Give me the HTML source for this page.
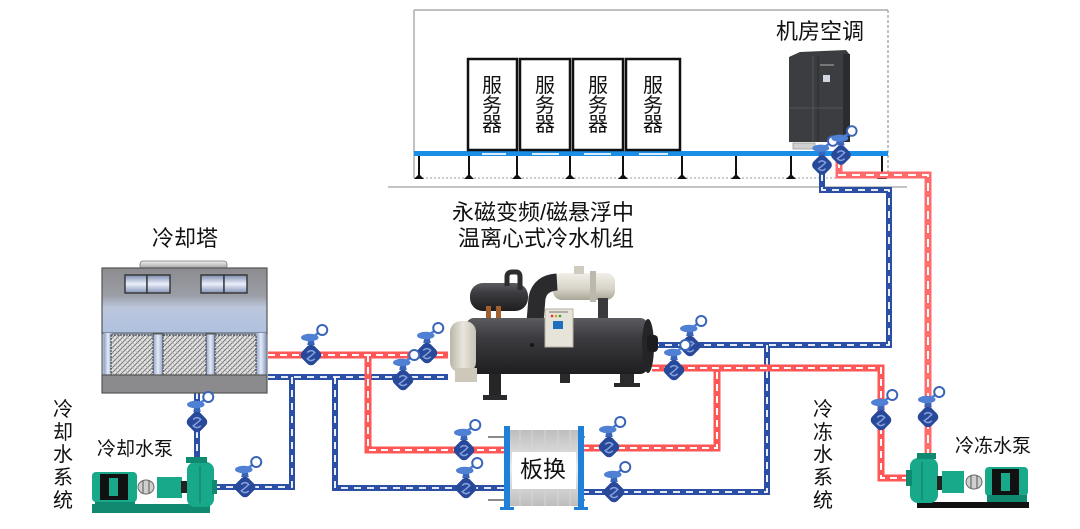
<!DOCTYPE html>
<html><head><meta charset="utf-8">
<style>
html,body{margin:0;padding:0;background:#fff;}
svg{display:block;}
text{font-family:"Liberation Sans","Noto Sans CJK SC",sans-serif;fill:#111;}
</style></head><body>
<svg width="1080" height="529" viewBox="0 0 1080 529" xmlns="http://www.w3.org/2000/svg">
<defs>
 <linearGradient id="towerTop" x1="0" y1="0" x2="0" y2="1">
  <stop offset="0" stop-color="#8c8c8f"/>
  <stop offset="0.42" stop-color="#9b9ea6"/>
  <stop offset="0.6" stop-color="#bcc7dc"/>
  <stop offset="1" stop-color="#afc0e0"/>
 </linearGradient>
 <linearGradient id="win" x1="0" y1="0" x2="0" y2="1">
  <stop offset="0" stop-color="#7d8db0"/>
  <stop offset="0.5" stop-color="#eaf0fa"/>
  <stop offset="1" stop-color="#8494b8"/>
 </linearGradient>
 <linearGradient id="cap" x1="0" y1="0" x2="0" y2="1">
  <stop offset="0" stop-color="#f0f0f0"/>
  <stop offset="1" stop-color="#9a9a9a"/>
 </linearGradient>
 <linearGradient id="pillar" x1="0" y1="0" x2="1" y2="0">
  <stop offset="0" stop-color="#8ea2c8"/>
  <stop offset="0.5" stop-color="#e6ecf6"/>
  <stop offset="1" stop-color="#8ea2c8"/>
 </linearGradient>
 <pattern id="mesh" width="5" height="5" patternUnits="userSpaceOnUse">
  <rect width="5" height="5" fill="#e4e4e4"/>
  <path d="M0 5L5 0M-1 1L1 -1M4 6L6 4" stroke="#777" stroke-width="1"/>
  <path d="M0 0L5 5" stroke="#aaa" stroke-width="0.6"/>
 </pattern>
 <linearGradient id="darkV" x1="0" y1="0" x2="0" y2="1">
  <stop offset="0" stop-color="#5c5c60"/>
  <stop offset="0.35" stop-color="#3c3c40"/>
  <stop offset="1" stop-color="#1e1e20"/>
 </linearGradient>
 <linearGradient id="beige" x1="0" y1="0" x2="0" y2="1">
  <stop offset="0" stop-color="#f1efe8"/>
  <stop offset="0.6" stop-color="#d6d2c6"/>
  <stop offset="1" stop-color="#a9a597"/>
 </linearGradient>
 <linearGradient id="beigeH" x1="0" y1="0" x2="1" y2="0">
  <stop offset="0" stop-color="#b9b5a8"/>
  <stop offset="0.5" stop-color="#e9e6dd"/>
  <stop offset="1" stop-color="#c6c2b5"/>
 </linearGradient>
 <linearGradient id="plates" x1="0" y1="0" x2="0" y2="1">
  <stop offset="0" stop-color="#bdbdbd"/>
  <stop offset="0.5" stop-color="#ececec"/>
  <stop offset="1" stop-color="#bdbdbd"/>
 </linearGradient>
 <g id="valve">
  <path d="M-3 -8 L3 -8 L2 -13 L-2 -13 Z" fill="#3a64b8"/>
  <ellipse cx="-1" cy="-14" rx="7" ry="3" fill="#4f80d4"/>
  <path d="M2 -15 L8 -19" stroke="#4f80d4" stroke-width="2"/>
  <circle cx="9" cy="-20" r="4" fill="#fff" stroke="#3a64b8" stroke-width="1.6"/>
  <rect x="-7" y="-7" width="14" height="14" rx="4" transform="rotate(45)" fill="#28489a"/>
  <path d="M-3 -2 Q0 -5 3 -2 Q0 1 -3 3 Q0 6 3 3" stroke="#86a2dc" stroke-width="1.2" fill="none"/>
 </g>
 <g id="redPipes" fill="none" stroke-linejoin="miter">
  <polyline points="268,355 448,355"/>
  <polyline points="368,355 368,450 506,450"/>
  <polyline points="582,448 717,448 717,368"/>
  <polyline points="652,368 881,368 881,478 912,478"/>
 </g>
 <g id="redPipe2" fill="none">
  <polyline points="839,160 839,175 928,175 928,455"/>
 </g>
 <g id="bluePipes" fill="none">
  <polyline points="268,377 448,377"/>
  <polyline points="213,487 292,487 292,377"/>
  <polyline points="335,377 335,488 506,488"/>
  <polyline points="582,492 767,492 767,345"/>
  <polyline points="652,345 889,345 889,190 822,190 822,160"/>
  <polyline points="197,392 197,460"/>
 </g>
</defs>

<!-- ============ SERVER ROOM ============ -->
<line x1="414" y1="10" x2="888" y2="10" stroke="#9a9a9a" stroke-width="1.2"/>
<line x1="414" y1="10" x2="414" y2="178" stroke="#9a9a9a" stroke-width="1.2"/>
<line x1="888" y1="10" x2="888" y2="178" stroke="#9a9a9a" stroke-width="1.2" stroke-dasharray="3 2"/>
<line x1="388" y1="187" x2="907" y2="187" stroke="#b0b0b0" stroke-width="1.5"/>
<line x1="414" y1="178" x2="888" y2="178" stroke="#9a9a9a" stroke-width="1" stroke-dasharray="2 2"/>

<g stroke="#111" stroke-width="2">
 <line x1="419" y1="156" x2="419" y2="176"/><line x1="469" y1="156" x2="469" y2="176"/>
 <line x1="517" y1="156" x2="517" y2="176"/><line x1="570" y1="156" x2="570" y2="176"/>
 <line x1="623" y1="156" x2="623" y2="176"/><line x1="682" y1="156" x2="682" y2="176"/>
 <line x1="736" y1="156" x2="736" y2="176"/><line x1="791" y1="156" x2="791" y2="176"/>
 <line x1="882" y1="156" x2="882" y2="176"/>
</g>
<g fill="#111">
 <path d="M414 179 L419 174 L424 179Z"/><path d="M464 179 L469 174 L474 179Z"/>
 <path d="M512 179 L517 174 L522 179Z"/><path d="M565 179 L570 174 L575 179Z"/>
 <path d="M618 179 L623 174 L628 179Z"/><path d="M677 179 L682 174 L687 179Z"/>
 <path d="M731 179 L736 174 L741 179Z"/><path d="M786 179 L791 174 L796 179Z"/>
 <path d="M877 179 L882 174 L887 179Z"/>
</g>
<rect x="414" y="151" width="474" height="5" fill="#1a8ee6"/>
<g fill="#d8ecfb">
 <rect x="482" y="153" width="24" height="2"/><rect x="532" y="153" width="27" height="2"/>
 <rect x="584" y="153" width="27" height="2"/><rect x="639" y="153" width="29" height="2"/>
</g>

<g fill="#fff" stroke="#111" stroke-width="2.5">
 <rect x="468" y="59" width="49" height="91"/>
 <rect x="520" y="59" width="50" height="91"/>
 <rect x="573" y="59" width="50" height="91"/>
 <rect x="626" y="59" width="54" height="91"/>
</g>
<g font-size="20" text-anchor="middle">
 <text x="492" y="92">服</text><text x="492" y="112">务</text><text x="492" y="131">器</text>
 <text x="545" y="92">服</text><text x="545" y="112">务</text><text x="545" y="131">器</text>
 <text x="598" y="92">服</text><text x="598" y="112">务</text><text x="598" y="131">器</text>
 <text x="653" y="92">服</text><text x="653" y="112">务</text><text x="653" y="131">器</text>
</g>

<text x="820" y="39" font-size="22" text-anchor="middle">机房空调</text>
<rect x="793" y="143" width="22" height="6" fill="#cfcfcf" stroke="#999" stroke-width="0.8"/>
<path d="M789 57 L800 52 L846 50 L850 55 L850 142 L789 142 Z" fill="#3b3d41"/>
<rect x="843" y="54" width="7" height="88" fill="#2b2c2f"/>
<line x1="813" y1="56" x2="813" y2="142" stroke="#55575c" stroke-width="1"/>
<line x1="818" y1="56" x2="818" y2="142" stroke="#2a2b2e" stroke-width="1"/>
<line x1="789" y1="108" x2="843" y2="108" stroke="#505257" stroke-width="1"/>
<rect x="823" y="75" width="7" height="7" fill="#cfd6e0"/>
<rect x="820" y="64" width="14" height="2" fill="#777"/>

<!-- ============ PIPES ============ -->
<use href="#bluePipes" stroke="#2c4fa6" stroke-width="6"/>
<use href="#bluePipes" stroke="#fff" stroke-width="1.8" stroke-dasharray="7 6"/>
<use href="#redPipes" stroke="#ff5656" stroke-width="7"/>
<use href="#redPipes" stroke="#fff" stroke-width="2" stroke-dasharray="7 5"/>
<use href="#redPipe2" stroke="#ff6b6b" stroke-width="7"/>
<use href="#redPipe2" stroke="#fff" stroke-width="2" stroke-dasharray="8 6"/>

<!-- ============ COOLING TOWER ============ -->
<text x="185" y="246" font-size="22" text-anchor="middle">冷却塔</text>
<rect x="140" y="261" width="87" height="8" rx="3" fill="url(#cap)" stroke="#777" stroke-width="0.8"/>
<rect x="102" y="268" width="165" height="66" fill="url(#towerTop)" stroke="#555" stroke-width="1.2"/>
<g fill="url(#win)" stroke="#333" stroke-width="1.4">
 <rect x="125" y="275" width="22" height="18"/><rect x="147" y="275" width="23" height="18"/>
 <rect x="201" y="275" width="23" height="18"/><rect x="224" y="275" width="23" height="18"/>
</g>
<rect x="102" y="333" width="165" height="43" fill="#a9b7d0" stroke="#555" stroke-width="1"/>
<rect x="104" y="333" width="8" height="43" fill="url(#pillar)"/>
<rect x="256" y="333" width="10" height="43" fill="url(#pillar)"/>
<rect x="153" y="334" width="10" height="41" fill="url(#pillar)" stroke="#444" stroke-width="0.8"/>
<rect x="206" y="334" width="9" height="41" fill="url(#pillar)" stroke="#444" stroke-width="0.8"/>
<g fill="url(#mesh)" stroke="#333" stroke-width="1" stroke-dasharray="2 1">
 <rect x="111" y="335" width="42" height="40"/>
 <rect x="163" y="335" width="43" height="40"/>
 <rect x="215" y="335" width="41" height="40"/>
</g>
<rect x="102" y="375" width="165" height="18" fill="#8b8b8d" stroke="#555" stroke-width="1.2"/>

<!-- ============ CHILLER ============ -->
<text x="543" y="220" font-size="22" text-anchor="middle">永磁变频/磁悬浮中</text>
<text x="546" y="246" font-size="22" text-anchor="middle">温离心式冷水机组</text>
<g>
 <rect x="620" y="368" width="14" height="18" fill="#2a2a2c"/>
 <rect x="614" y="383" width="26" height="4" fill="#2a2a2c"/>
 <rect x="489" y="370" width="12" height="28" fill="#262628"/>
 <rect x="483" y="395" width="24" height="5" fill="#2a2a2c"/>
 <rect x="560" y="370" width="10" height="13" fill="#2a2a2c"/>
 <rect x="470" y="283" width="58" height="28" rx="13" fill="url(#darkV)"/>
 <path d="M507 286 V277 Q507 272 512 272 H516 Q520 272 520 277 V290" stroke="#2d2d30" stroke-width="5" fill="none"/>
 <rect x="553" y="273" width="62" height="27" rx="9" fill="url(#beige)"/>
 <rect x="590" y="271" width="6" height="31" fill="#bcb8ab"/>
 <rect x="574" y="266" width="10" height="8" fill="#cfcbbf"/>
 <rect x="598" y="298" width="10" height="20" fill="#3a3a3d"/>
 <path d="M535 322 L537 298 Q540 283 557 282" stroke="#2b2b2e" stroke-width="17" fill="none"/>
 <rect x="466" y="318" width="182" height="56" rx="8" fill="url(#darkV)"/>
 <ellipse cx="648" cy="346" rx="6" ry="27" fill="#252527"/>
 <rect x="647" y="335" width="11" height="17" rx="4" fill="#1c1c1e"/>
 <rect x="450" y="321" width="26" height="52" rx="11" fill="url(#beigeH)"/>
 <rect x="455" y="368" width="22" height="14" fill="#cdc8ba"/>
 <rect x="545" y="309" width="28" height="38" fill="#e6e3d8" stroke="#b5b1a4" stroke-width="1"/>
 <rect x="553" y="321" width="10" height="8" fill="#1f6fc0"/>
 <circle cx="552" cy="316" r="1.3" fill="#e03030"/><circle cx="556" cy="316" r="1.3" fill="#e0a020"/>
 <circle cx="560" cy="316" r="1.3" fill="#30a040"/>
 <line x1="549" y1="312" x2="568" y2="312" stroke="#777" stroke-width="1"/>
 <rect x="486" y="306" width="5" height="12" fill="#a06030"/>
 <rect x="496" y="306" width="5" height="12" fill="#a06030"/>
 <circle cx="532" cy="345" r="2" fill="#151515"/>
</g>

<!-- ============ PLATE EXCHANGER ============ -->
<line x1="488" y1="437" x2="585" y2="437" stroke="#8a8a8a" stroke-width="2"/>
<line x1="488" y1="500" x2="585" y2="500" stroke="#8a8a8a" stroke-width="2"/>
<rect x="510" y="430" width="68" height="76" fill="url(#plates)"/>
<g stroke="#d5d5d5" stroke-width="1">
 <line x1="520" y1="430" x2="520" y2="506"/><line x1="532" y1="430" x2="532" y2="506"/>
 <line x1="545" y1="430" x2="545" y2="506"/><line x1="558" y1="430" x2="558" y2="506"/>
 <line x1="570" y1="430" x2="570" y2="506"/>
</g>
<rect x="504" y="426" width="6" height="84" fill="#1e80d8"/>
<rect x="578" y="426" width="6" height="84" fill="#1e80d8"/>
<rect x="500" y="507" width="14" height="3" fill="#1e80d8"/>
<rect x="574" y="507" width="14" height="3" fill="#1e80d8"/>
<rect x="512" y="452" width="64" height="37" fill="#fff"/>
<text x="543" y="477" font-size="23" text-anchor="middle">板换</text>

<!-- ============ VALVES ============ -->
<use href="#valve" transform="translate(311,355) scale(1.25)"/>
<use href="#valve" transform="translate(427,353) scale(1.25)"/>
<use href="#valve" transform="translate(403,380) scale(1.25)"/>
<use href="#valve" transform="translate(464,450) scale(1.25)"/>
<use href="#valve" transform="translate(466,488) scale(1.25)"/>
<use href="#valve" transform="translate(609,447) scale(1.25)"/>
<use href="#valve" transform="translate(614,492) scale(1.25)"/>
<use href="#valve" transform="translate(690,346) scale(1.25)"/>
<use href="#valve" transform="translate(674,370) scale(1.25)"/>
<use href="#valve" transform="translate(197,422) scale(1.25)"/>
<use href="#valve" transform="translate(245,487) scale(1.25)"/>
<use href="#valve" transform="translate(881,420) scale(1.25)"/>
<use href="#valve" transform="translate(928,417) scale(1.25)"/>
<use href="#valve" transform="translate(822,165) scale(1.2)"/>
<use href="#valve" transform="translate(841,155) scale(1.2)"/>

<!-- ============ COOLING PUMP (left) ============ -->
<rect x="92" y="504" width="118" height="9" fill="#0f8a70"/>
<rect x="95" y="499" width="40" height="6" fill="#0f8a70"/>
<rect x="92" y="472" width="45" height="30" rx="4" fill="#17a98a"/>
<rect x="100" y="474" width="28" height="26" fill="#111"/>
<rect x="109" y="478" width="9" height="18" fill="#17a98a"/>
<ellipse cx="146" cy="487" rx="8" ry="7" fill="#cfcfcf" stroke="#666" stroke-width="1"/>
<line x1="143" y1="481" x2="143" y2="493" stroke="#555"/><line x1="149" y1="481" x2="149" y2="493" stroke="#555"/>
<rect x="157" y="477" width="25" height="21" fill="#17a98a"/>
<rect x="181" y="481" width="7" height="12" fill="#222"/>
<rect x="187" y="462" width="27" height="45" rx="8" fill="#17a98a"/>
<rect x="186" y="457" width="21" height="6" fill="#0f8a70"/>
<rect x="212" y="480" width="5" height="14" fill="#0f8a70"/>
<line x1="200" y1="466" x2="200" y2="503" stroke="#0c7a62" stroke-width="1"/>

<!-- ============ CHILLED PUMP (right) ============ -->
<rect x="917" y="502" width="112" height="6" fill="#111"/>
<rect x="910" y="458" width="28" height="45" rx="8" fill="#17a98a"/>
<rect x="917" y="453" width="19" height="6" fill="#0f8a70"/>
<rect x="906" y="470" width="6" height="16" fill="#0f8a70"/>
<line x1="922" y1="462" x2="922" y2="500" stroke="#0c7a62" stroke-width="1"/>
<rect x="937" y="476" width="6" height="14" fill="#222"/>
<rect x="942" y="471" width="22" height="22" fill="#17a98a"/>
<ellipse cx="974" cy="482" rx="8" ry="7" fill="#cfcfcf" stroke="#666" stroke-width="1"/>
<line x1="971" y1="476" x2="971" y2="488" stroke="#555"/><line x1="977" y1="476" x2="977" y2="488" stroke="#555"/>
<rect x="985" y="467" width="43" height="29" rx="4" fill="#17a98a"/>
<rect x="992" y="469" width="27" height="26" fill="#111"/>
<rect x="1001" y="473" width="9" height="18" fill="#17a98a"/>
<rect x="987" y="495" width="40" height="7" fill="#0f8a70"/>

<!-- ============ LABELS ============ -->
<g font-size="20" text-anchor="middle">
 <text x="63" y="416">冷</text><text x="63" y="439">却</text><text x="63" y="461">水</text>
 <text x="63" y="484">系</text><text x="63" y="507">统</text>
 <text x="823" y="416">冷</text><text x="823" y="439">冻</text><text x="823" y="461">水</text>
 <text x="823" y="484">系</text><text x="823" y="507">统</text>
</g>
<text x="97" y="455" font-size="19">冷却水泵</text>
<text x="955" y="452" font-size="19">冷冻水泵</text>
</svg>
</body></html>
